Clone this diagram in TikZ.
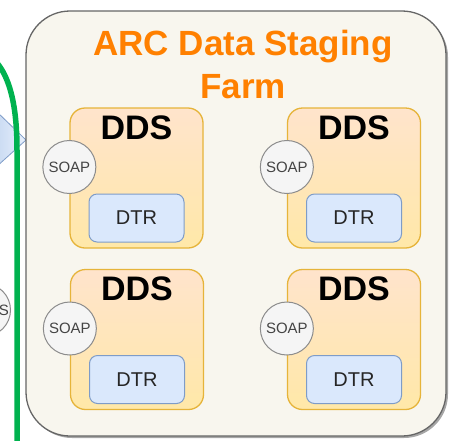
\documentclass[tikz,border=0pt]{standalone}
\usepackage{fontspec}
\setmainfont{Liberation Sans}
\usetikzlibrary{shadows,calc}
\definecolor{farmfill}{HTML}{F8F6EE}
\definecolor{farmline}{HTML}{666666}
\definecolor{titleorange}{HTML}{FF8000}
\definecolor{ddstop}{HTML}{FFE4CC}
\definecolor{ddsbot}{HTML}{FFE8A8}
\definecolor{ddsline}{HTML}{E6B43A}
\definecolor{soapfill}{HTML}{F5F5F5}
\definecolor{soapline}{HTML}{8C8C8C}
\definecolor{soaptext}{HTML}{444444}
\definecolor{dtrfill}{HTML}{DAE8FC}
\definecolor{dtrline}{HTML}{7E9CC8}
\definecolor{gridgreen}{HTML}{00B24F}
\begin{document}
\begin{tikzpicture}[x=1pt,y=-1pt,
  farmbox/.style={draw=farmline, line width=1.3pt, fill=farmfill, rounded corners=44pt,
    minimum width=420pt, minimum height=425pt, inner sep=0pt,
    drop shadow={shadow xshift=2pt, shadow yshift=-2pt, opacity=0.35, fill=black}},
  titletext/.style={text=titleorange, font=\fontsize{35}{42}\selectfont\bfseries, inner sep=0pt},
  ddsbox/.style={draw=ddsline, line width=1.3pt, rounded corners=15pt, top color=ddstop,
    bottom color=ddsbot, minimum width=133pt, minimum height=140pt, inner sep=0pt},
  ddstext/.style={font=\fontsize{34}{40}\selectfont\bfseries, inner sep=0pt, anchor=base},
  soapcircle/.style={circle, draw=soapline, line width=1pt, fill=soapfill, minimum size=53pt,
    inner sep=0pt, text=soaptext, font=\fontsize{15}{18}\selectfont},
  dtrbox/.style={draw=dtrline, line width=1pt, fill=dtrfill, rounded corners=8pt,
    minimum width=95pt, minimum height=48pt, inner sep=0pt, text=black!85,
    font=\fontsize{20}{24}\selectfont},
  sidearrow/.style={draw=dtrline, line width=0.8pt, left color=dtrfill!80!dtrline, right color=dtrfill!60},
  gridline/.style={draw=gridgreen, line width=5.5pt}
]
\useasboundingbox (0,0) rectangle (449,440);
% partial shapes at the left edge
\coordinate (arrowtop) at (-5,110);
\coordinate (arrowtip) at (26,140);
\coordinate (arrowbot) at (-5,168);
\path[sidearrow] (arrowtop) -- (arrowtip) -- (arrowbot) -- cycle;
\node[soapcircle] (sidecircle) at (-16,310) {};
\node[text=soaptext, font=\fontsize{15}{18}\selectfont, inner sep=0pt, anchor=east] (stext) at (9,310) {S};
% green boundary
\coordinate (gstart) at (-20,50);
\coordinate (gbend) at (17,150);
\coordinate (gend) at (17,450);
\draw[gridline] (gstart) .. controls (8,62) and (17,100) .. (gbend) -- (gend);
% farm
\node[farmbox] (farm) at (236,223.5) {};
\node[titletext, anchor=base] (title1) at (243,55) {ARC Data Staging};
\node[titletext, anchor=base] (title2) at (243,98) {Farm};
% DDS units
\foreach \n/\cx/\cy in {1/136.5/178, 2/354/178, 3/137/339.5, 4/354/339.5}{
  \node[ddsbox] (dds\n) at (\cx,\cy) {};
  \node[ddstext] (ddslabel\n) at ($(dds\n.north)+(0,32)$) {DDS};
  \node[soapcircle] (soap\n) at ($(dds\n.west)+(0,-11)$) {SOAP};
  \node[dtrbox] (dtr\n) at ($(dds\n.center)+(0,40)$) {DTR};
}
\end{tikzpicture}
\end{document}
